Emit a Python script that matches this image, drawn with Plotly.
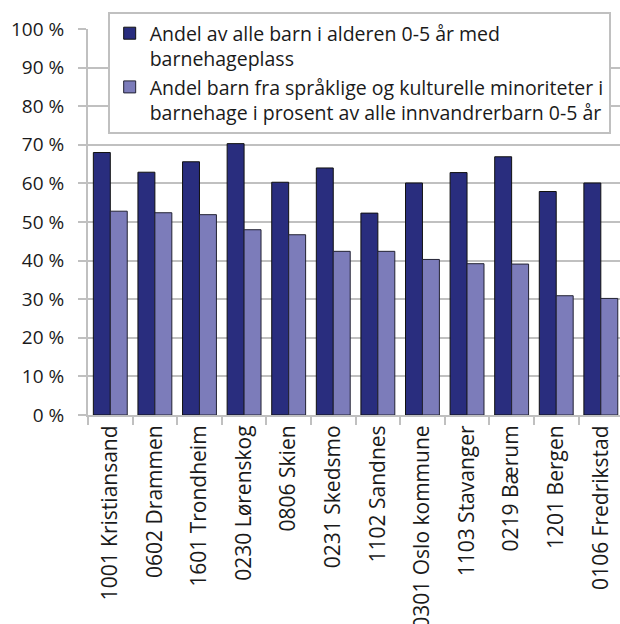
import plotly.graph_objects as go

categories = ["1001 Kristiansand", "0602 Drammen", "1601 Trondheim", "0230 Lørenskog",
              "0806 Skien", "0231 Skedsmo", "1102 Sandnes", "0301 Oslo kommune",
              "1103 Stavanger", "0219 Bærum", "1201 Bergen", "0106 Fredrikstad"]
andel_alle = [68.0, 62.9, 65.6, 70.3, 60.3, 64.0, 52.3, 60.1, 62.8, 66.9, 57.9, 60.1]
andel_minoritet = [52.8, 52.4, 51.9, 48.0, 46.7, 42.4, 42.4, 40.3, 39.2, 39.1, 30.9, 30.2]
series_names = ["Andel av alle barn i alderen 0-5 år med<br>barnehageplass",
                "Andel barn fra språklige og kulturelle minoriteter i<br>barnehage i prosent av alle innvandrerbarn 0-5 år"]
y_ticks = list(range(0, 101, 10))
y_ticktext = [f"{v} %" for v in y_ticks]

FONT = "Open Sans"
GRID = "#c0c0c0"

fig = go.Figure()
fig.add_trace(go.Bar(x=categories, y=andel_alle, name=series_names[0],
                     marker=dict(color="#292d7e", line=dict(color="#111111", width=1))))
fig.add_trace(go.Bar(x=categories, y=andel_minoritet, name=series_names[1],
                     marker=dict(color="#7c7cba", line=dict(color="#222233", width=1))))

fig.update_layout(
    width=620, height=624,
    margin=dict(l=88, r=0, t=29, b=209),
    paper_bgcolor="white", plot_bgcolor="white",
    font=dict(family=FONT, size=18, color="#1a1a1a"),
    barmode="group", bargap=0.24, bargroupgap=0,
    showlegend=True,
    legend=dict(x=0.037, y=1.044, xanchor="left", yanchor="top",
                bgcolor="white", bordercolor=GRID, borderwidth=2,
                font=dict(family=FONT, size=19.5, color="#1a1a1a"),
                valign="top", tracegroupgap=0, itemwidth=30),
)
fig.update_xaxes(range=[-0.5, 11.43], tickangle=-90, ticks="outside", tickson="boundaries",
                 ticklen=8, tickcolor=GRID, tickwidth=2, showline=True, linecolor=GRID,
                 linewidth=2, showgrid=False, tickfont=dict(size=21), automargin=False)
fig.update_yaxes(range=[0, 100], tickvals=y_ticks, ticktext=y_ticktext, ticks="outside",
                 ticklen=8, tickcolor=GRID, tickwidth=2, showline=True, linecolor=GRID,
                 linewidth=2, showgrid=True, gridcolor=GRID, gridwidth=2,
                 zeroline=False, tickfont=dict(size=19), ticklabelstandoff=10, automargin=False)

fig.write_html("out.html", config={"displayModeBar": False},
               post_script="document.body.style.margin='0';document.body.style.padding='0';")
